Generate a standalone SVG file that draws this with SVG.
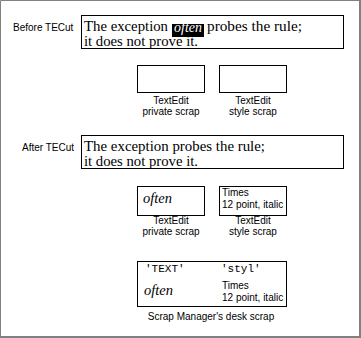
<svg xmlns="http://www.w3.org/2000/svg" width="361" height="338" viewBox="0 0 361 338">
<style>
.box{fill:#fff;stroke:#000;stroke-width:1}
.lbl{font-family:"Liberation Sans",Arial,sans-serif;font-size:10px;fill:#000}
.ser{font-family:"Liberation Serif","Times New Roman",serif;font-size:14px;fill:#000}
.it{font-family:"Liberation Serif","Times New Roman",serif;font-style:italic;font-size:14px}
.mono{font-family:"Liberation Mono","Courier New",monospace;font-size:11px;fill:#000}
.mid{text-anchor:middle}
</style>
<rect width="361" height="338" fill="#fff"/>
<path d="M0.5 338V0.5H360" fill="none" stroke="#808080" stroke-width="1"/>
<path d="M360 0V338M0 337H361" fill="none" stroke="#808080" stroke-width="2"/>

<g id="before-label"><text class="lbl" x="13" y="31">Before TECut</text></g>
<g id="before-text">
<rect class="box" x="81.5" y="15.5" width="262" height="33"/>
<rect x="172" y="24" width="32" height="13" fill="#000"/>
<text class="ser" x="84" y="31" textLength="84" lengthAdjust="spacingAndGlyphs">The exception</text>
<text class="it" x="174" y="32" fill="#fff" font-size="13" textLength="28" lengthAdjust="spacingAndGlyphs">often</text>
<text class="ser" x="207" y="31" textLength="95" lengthAdjust="spacingAndGlyphs">probes the rule;</text>
<text class="ser" x="84" y="46" textLength="114" lengthAdjust="spacingAndGlyphs">it does not prove it.</text>
</g>
<g id="before-private">
<rect class="box" x="137.5" y="65.5" width="67" height="27"/>
<text class="lbl mid" x="171" y="104">TextEdit</text>
<text class="lbl mid" x="171" y="115">private scrap</text>
</g>
<g id="before-style">
<rect class="box" x="219.5" y="65.5" width="67" height="27"/>
<text class="lbl mid" x="253" y="104">TextEdit</text>
<text class="lbl mid" x="253" y="115">style scrap</text>
</g>

<g id="after-label"><text class="lbl" x="22" y="151">After TECut</text></g>
<g id="after-text">
<rect class="box" x="81.5" y="135.5" width="262" height="33"/>
<text class="ser" x="84" y="151" textLength="181" lengthAdjust="spacingAndGlyphs">The exception probes the rule;</text>
<text class="ser" x="84" y="166" textLength="114" lengthAdjust="spacingAndGlyphs">it does not prove it.</text>
</g>
<g id="after-private">
<rect class="box" x="137.5" y="186.5" width="67" height="29"/>
<text class="it" x="143" y="203" textLength="29" lengthAdjust="spacingAndGlyphs">often</text>
<text class="lbl mid" x="171" y="224">TextEdit</text>
<text class="lbl mid" x="171" y="235">private scrap</text>
</g>
<g id="after-style">
<rect class="box" x="219.5" y="186.5" width="67" height="29"/>
<text class="lbl" x="222" y="196">Times</text>
<text class="lbl" x="222" y="208">12 point, italic</text>
<text class="lbl mid" x="253" y="224">TextEdit</text>
<text class="lbl mid" x="253" y="235">style scrap</text>
</g>

<g id="desk-scrap">
<rect class="box" x="137.5" y="261.5" width="149" height="45"/>
<text class="mono" x="145" y="272">'TEXT'</text>
<text class="mono" x="221" y="272">'styl'</text>
<text class="it" x="144" y="295" textLength="29" lengthAdjust="spacingAndGlyphs">often</text>
<text class="lbl" x="222" y="289">Times</text>
<text class="lbl" x="222" y="301">12 point, italic</text>
<text class="lbl mid" x="211" y="320">Scrap Manager's desk scrap</text>
</g>
</svg>
